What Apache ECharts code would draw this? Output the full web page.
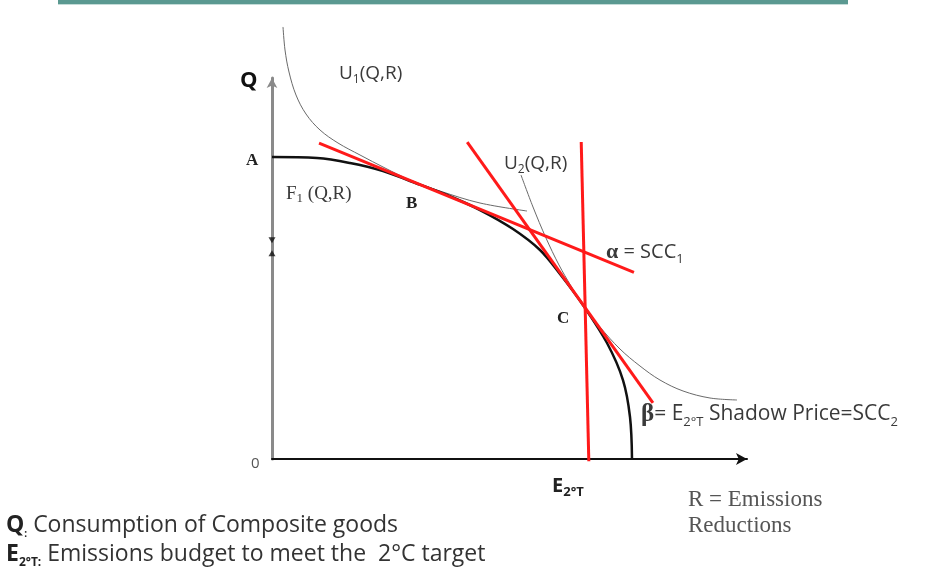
<!DOCTYPE html>
<html>
<head>
<meta charset="utf-8">
<script src="https://cdn.jsdelivr.net/npm/echarts@6/dist/echarts.min.js"></script>
<style>
  html, body { margin: 0; padding: 0; background: #fff; }
  #main { width: 942px; height: 576px; }
</style>
</head>
<body>
<div id="main"></div>
<script>
// 坐标单位: x 0..100 (R), y 0..100 (Q)
// 生产可能性曲线 F1(Q,R)
var frontierF1 = [
  [0, 79.27], [9.47, 79.0], [16.42, 77.69], [23.37, 75.59], [29.05, 72.97],
  [36.84, 69.29], [43.79, 65.35], [50.74, 60.37], [56.42, 54.86], [60.63, 48.56],
  [65.47, 40.42], [70.53, 30.45], [73.89, 20.73], [75.37, 11.02], [75.79, 0]
];
// 无差异曲线 U1(Q,R)
var curveU1 = [
  [2.32, 113.39], [2.74, 107.35], [3.58, 101.57], [5.05, 95.54], [7.16, 90.55],
  [10.11, 86.35], [13.89, 82.94], [18.53, 79.79], [23.79, 76.38], [29.05, 73.23],
  [35.37, 70.34], [43.79, 67.19], [53.68, 65.09]
];
// 无差异曲线 U2(Q,R)
var curveU2 = [
  [52.42, 74.54], [54.95, 66.14], [57.68, 58.01], [60.42, 50.92], [62.95, 45.41],
  [65.47, 40.42], [69.05, 34.65], [73.26, 28.87], [77.47, 24.41], [81.68, 20.73],
  [86.53, 17.85], [92.21, 16.01], [97.89, 15.49]
];
// 红色切线
var lineAlpha = [[9.9, 82.9], [76.2, 49.0]];   // α = SCC1
var lineBeta = [[41.1, 83.2], [80.2, 14.7]];   // β
var lineBudget = [[65.1, 83.2], [66.7, -0.6]]; // E2°T
// y轴上的小标记
var axisMarkDown = [[0, 57.4]];
var axisMarkUp = [[0, 54.0]];

var myChart = echarts.init(document.getElementById('main'));

var sans = '"Open Sans"';
var serif = 'Liberation Serif';
var txt = '#3a3a3a';

function redLine(data) {
  return {
    type: 'line', data: data, symbol: 'none', clip: false, silent: true,
    lineStyle: { color: '#ff1a1a', width: 3 }, z: 4
  };
}

function curve(data, color, width, z) {
  return {
    type: 'line', data: data, symbol: 'none', smooth: 0.35, clip: false, silent: true,
    lineStyle: { color: color, width: width }, z: z
  };
}

var option = {
  animation: false,
  backgroundColor: '#fff',
  grid: { left: 272, top: 78, right: 195, bottom: 117 },
  xAxis: {
    type: 'value', min: 0, max: 100,
    axisLine: { show: true, symbol: ['none', 'arrow'], symbolSize: [9, 11], lineStyle: { color: '#111', width: 2 } },
    axisTick: { show: false }, axisLabel: { show: false }, splitLine: { show: false }
  },
  yAxis: {
    type: 'value', min: 0, max: 100,
    axisLine: { show: true, symbol: ['none', 'arrow'], symbolSize: [8, 10], lineStyle: { color: '#8a8a8a', width: 3 } },
    axisTick: { show: false }, axisLabel: { show: false }, splitLine: { show: false }
  },
  series: [
    curve(curveU1, '#6a6a6a', 1, 2),
    curve(curveU2, '#6a6a6a', 1, 2),
    curve(frontierF1, '#111', 2.5, 3),
    redLine(lineAlpha),
    redLine(lineBeta),
    redLine(lineBudget),
    {
      type: 'scatter', data: axisMarkDown, symbol: 'triangle', symbolRotate: 180, symbolSize: [7, 6],
      itemStyle: { color: '#111' }, silent: true, z: 5
    },
    {
      type: 'scatter', data: axisMarkUp, symbol: 'triangle', symbolSize: [7, 6],
      itemStyle: { color: '#111' }, silent: true, z: 5
    }
  ],
  graphic: [
    // 顶部色条
    { type: 'rect', shape: { x: 58, y: 0, width: 790, height: 4 }, style: { fill: '#5b9991' } },
    { type: 'rect', shape: { x: 58, y: 4, width: 790, height: 1 }, style: { fill: '#c4dcd8' } },
    { type: 'text', left: 240, top: 70, style: { text: 'Q', font: 'bold 22px ' + sans, fill: '#111' } },
    { type: 'text', left: 251, top: 456, style: { text: '0', font: '15px ' + sans, fill: '#555' } },
    { type: 'text', left: 246, top: 152, style: { text: 'A', font: 'bold 17px ' + serif, fill: '#222' } },
    { type: 'text', left: 406, top: 195, style: { text: 'B', font: 'bold 17px ' + serif, fill: '#222' } },
    { type: 'text', left: 557, top: 310, style: { text: 'C', font: 'bold 17px ' + serif, fill: '#222' } },
    {
      type: 'text', left: 339, top: 64,
      style: {
        text: '{a|U}{s|1}{a|(Q,R)}', fill: txt,
        rich: {
          a: { font: '19px ' + sans, fill: txt, lineHeight: 24 },
          s: { font: '12px ' + sans, fill: txt, lineHeight: 12, verticalAlign: 'bottom' }
        }
      }
    },
    {
      type: 'text', left: 504, top: 154,
      style: {
        text: '{a|U}{s|2}{a|(Q,R)}', fill: txt,
        rich: {
          a: { font: '19px ' + sans, fill: txt, lineHeight: 24 },
          s: { font: '12px ' + sans, fill: txt, lineHeight: 12, verticalAlign: 'bottom' }
        }
      }
    },
    {
      type: 'text', left: 286, top: 185,
      style: {
        text: '{a|F}{s|1}{a| (Q,R)}', fill: txt,
        rich: {
          a: { font: '19px ' + serif, fill: txt, lineHeight: 22 },
          s: { font: '13px ' + serif, fill: txt, lineHeight: 13, verticalAlign: 'bottom' }
        }
      }
    },
    {
      type: 'text', left: 606, top: 241,
      style: {
        text: '{g|α}{a| = SCC}{s|1}', fill: txt,
        rich: {
          g: { font: 'bold 22px ' + serif, fill: txt, lineHeight: 27 },
          a: { font: '20px ' + sans, fill: txt, lineHeight: 27 },
          s: { font: '13px ' + sans, fill: txt, lineHeight: 13, verticalAlign: 'bottom' }
        }
      }
    },
    {
      type: 'text', left: 641, top: 402,
      style: {
        text: '{g|β}{a|= E}{s|2°T}{a| Shadow Price=SCC}{s|2}', fill: txt,
        rich: {
          g: { font: 'bold 25px ' + serif, fill: txt, lineHeight: 29 },
          a: { font: '21px ' + sans, fill: txt, lineHeight: 29 },
          s: { font: '13px ' + sans, fill: txt, lineHeight: 13, verticalAlign: 'bottom' }
        }
      }
    },
    {
      type: 'text', left: 552, top: 476,
      style: {
        text: '{a|E}{s|2°T}', fill: '#222',
        rich: {
          a: { font: 'bold 20px ' + sans, fill: '#222', lineHeight: 26 },
          s: { font: 'bold 13px ' + sans, fill: '#222', lineHeight: 13, verticalAlign: 'bottom' }
        }
      }
    },
    {
      type: 'text', left: 688, top: 487,
      style: { text: 'R = Emissions\nReductions', font: '23px ' + serif, fill: '#555', lineHeight: 26 }
    },
    {
      type: 'text', left: 6, top: 514,
      style: {
        text: '{b|Q}{s|:}{a| Consumption of Composite goods}', fill: '#333',
        rich: {
          b: { font: 'bold 23px ' + sans, fill: '#222', lineHeight: 28 },
          a: { font: '23px ' + sans, fill: '#333', lineHeight: 28 },
          s: { font: 'bold 10px ' + sans, fill: '#222', lineHeight: 10, verticalAlign: 'bottom' }
        }
      }
    },
    {
      type: 'text', left: 6, top: 543,
      style: {
        text: '{b|E}{s|2°T:}{a| Emissions budget to meet the  2°C target}', fill: '#333',
        rich: {
          b: { font: 'bold 23px ' + sans, fill: '#222', lineHeight: 28 },
          a: { font: '23px ' + sans, fill: '#333', lineHeight: 28 },
          s: { font: 'bold 12px ' + sans, fill: '#222', lineHeight: 12, verticalAlign: 'bottom' }
        }
      }
    }
  ]
};

myChart.setOption(option);
</script>
</body>
</html>
